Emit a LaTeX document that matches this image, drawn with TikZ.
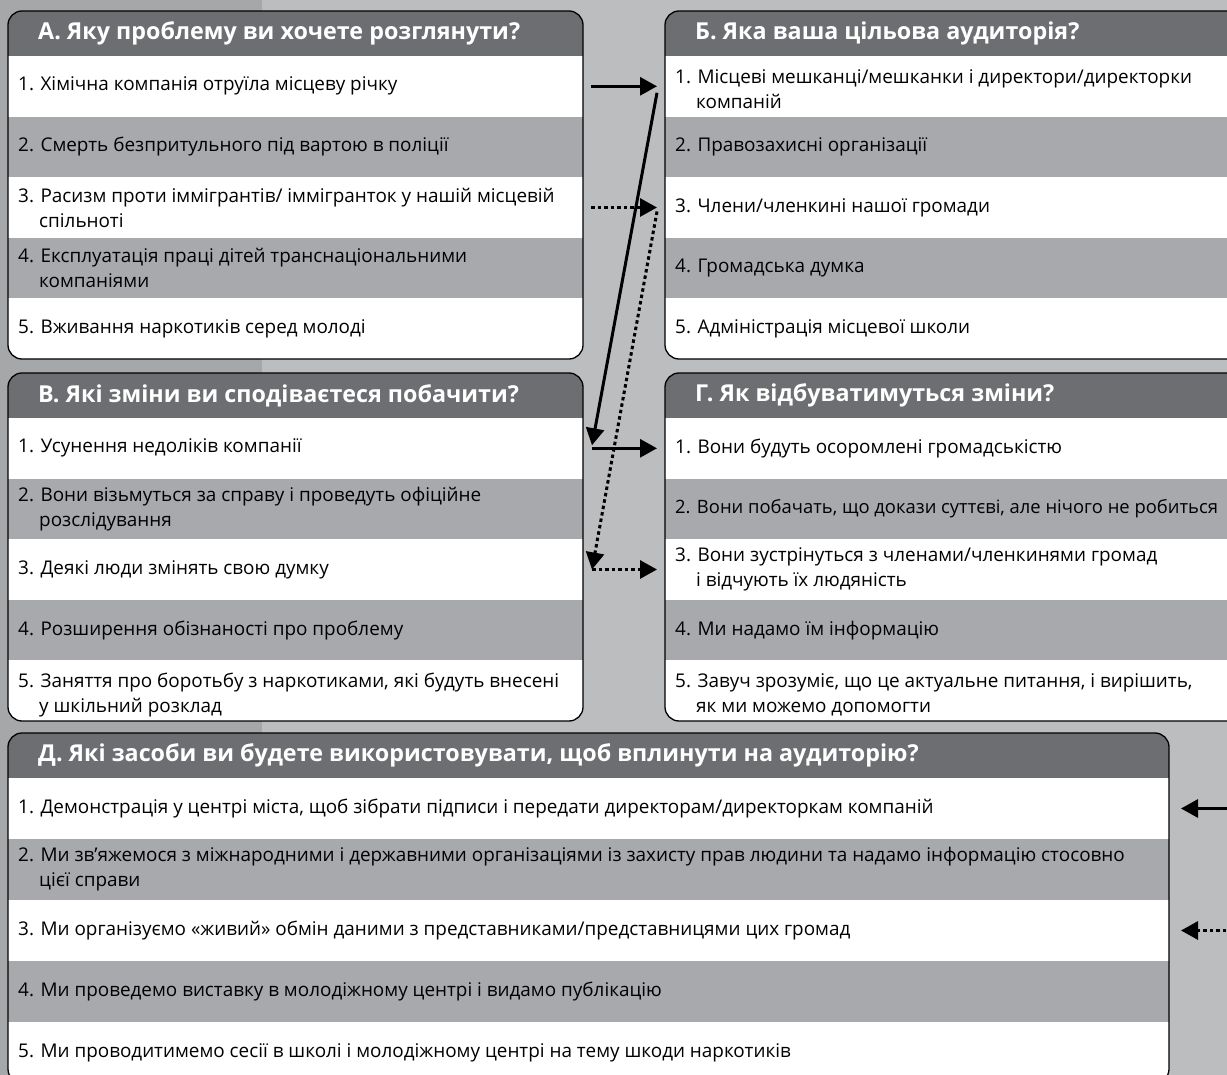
\documentclass[tikz,border=0pt]{standalone}
\usepackage{fontspec}
\setmainfont{Open Sans}
\usetikzlibrary{arrows.meta}

\begin{document}
\begin{tikzpicture}[x=1pt, y=-1pt,
    zeile/.style={anchor=west, align=left, inner sep=0pt,
      font=\fontsize{18.9}{25}\selectfont},
    kopf/.style={anchor=west, inner sep=0pt, text=white,
      font=\fontsize{23.3}{27}\selectfont\bfseries},
    rahmen/.style={draw=black, line width=1.3pt, rounded corners=14pt},
    pfeil/.style={line width=3pt, -{Triangle[length=17pt,width=18pt]}},
    punktpfeil/.style={pfeil, dash pattern=on 3.5pt off 3pt},
  ]

  % --- Farben ---
  \definecolor{kopfgrau}{HTML}{6D6E71} % Kopfzeile
  \definecolor{zeilgrau}{HTML}{A7A9AC} % Zeilen 2 und 4
  \definecolor{hgdunkel}{HTML}{A6A7A9} % Streifen links
  \definecolor{hghell}{HTML}{BCBDBF}   % Hintergrund

  % --- Hilfsmakros ---
  % \kasten{Name}{x}{y}{Breite}{Zeilenhoehe}
  \newcommand{\kasten}[5]{%
    \begin{scope}
      \clip[rounded corners=14pt] (#2,#3) rectangle ++(#4,45+5*#5);
      \fill[white] (#2,#3) rectangle ++(#4,45+5*#5);
      \fill[kopfgrau] (#2,#3) rectangle ++(#4,45);
      \fill[zeilgrau] (#2,#3+45+#5) rectangle ++(#4,#5);
      \fill[zeilgrau] (#2,#3+45+3*#5) rectangle ++(#4,#5);
    \end{scope}
    \draw[rahmen] (#2,#3) rectangle ++(#4,45+5*#5);
    \coordinate (#1) at (#2,#3+22.5);
    \foreach \i in {1,...,5}{
      \coordinate (#1\i) at (#2,#3+45+\i*#5-#5/2);
      \coordinate (#1\i r) at (#2+#4,#3+45+\i*#5-#5/2);
    }
  }
  \newcommand{\umbruch}{\\\hspace*{21pt}}

  % --- Hintergrund ---
  \clip (0,0) rectangle (1227,1075);
  \fill[hghell] (0,0) rectangle (1227,1075);
  \fill[hgdunkel] (0,0) rectangle (262,1075);

  % --- Kasten A ---
  \kasten{A}{8}{11}{575}{60.6}
  \node[kopf] (ka) at ([xshift=30pt]A) {А. Яку проблему ви хочете розглянути?};
  \node[zeile] (a1) at ([xshift=10pt]A1) {1. Хімічна компанія отруїла місцеву річку};
  \node[zeile] (a2) at ([xshift=10pt]A2) {2. Смерть безпритульного під вартою в поліції};
  \node[zeile] (a3) at ([xshift=10pt]A3) {3. Расизм проти іммігрантів/ іммігранток у нашій місцевій\umbruch спільноті};
  \node[zeile] (a4) at ([xshift=10pt]A4) {4. Експлуатація праці дітей транснаціональними\umbruch компаніями};
  \node[zeile] (a5) at ([xshift=10pt]A5) {5. Вживання наркотиків серед молоді};

  % --- Kasten B ---
  \kasten{B}{665}{11}{600}{60.6}
  \node[kopf] (kb) at ([xshift=30pt]B) {Б. Яка ваша цільова аудиторія?};
  \node[zeile] (b1) at ([shift={(10pt,-3pt)}]B1) {1. Місцеві мешканці/мешканки і директори/директорки\umbruch компаній};
  \node[zeile] (b2) at ([xshift=10pt]B2) {2. Правозахисні організації};
  \node[zeile] (b3) at ([xshift=10pt]B3) {3. Члени/членкині нашої громади};
  \node[zeile] (b4) at ([xshift=10pt]B4) {4. Громадська думка};
  \node[zeile] (b5) at ([xshift=10pt]B5) {5. Адміністрація місцевої школи};

  % --- Kasten V ---
  \kasten{V}{8}{373}{575}{60.6}
  \node[kopf] (kv) at ([xshift=30pt]V) {В. Які зміни ви сподіваєтеся побачити?};
  \node[zeile] (v1) at ([xshift=10pt]V1) {1. Усунення недоліків компанії};
  \node[zeile] (v2) at ([xshift=10pt]V2) {2. Вони візьмуться за справу і проведуть офіційне\umbruch розслідування};
  \node[zeile] (v3) at ([xshift=10pt]V3) {3. Деякі люди змінять свою думку};
  \node[zeile] (v4) at ([xshift=10pt]V4) {4. Розширення обізнаності про проблему};
  \node[zeile] (v5) at ([shift={(10pt,-4pt)}]V5) {5. Заняття про боротьбу з наркотиками, які будуть внесені\umbruch у шкільний розклад};

  % --- Kasten G ---
  \kasten{G}{665}{373}{600}{60.6}
  \node[kopf] (kg) at ([xshift=30pt]G) {Г. Як відбуватимуться зміни?};
  \node[zeile] (g1) at ([xshift=10pt]G1) {1. Вони будуть осоромлені громадськістю};
  \node[zeile, font=\fontsize{18.4}{25}\selectfont] (g2) at ([xshift=10pt]G2) {2. Вони побачать, що докази суттєві, але нічого не робиться};
  \node[zeile] (g3) at ([xshift=10pt]G3) {3. Вони зустрінуться з членами/членкинями громад\umbruch і відчують їх людяність};
  \node[zeile] (g4) at ([xshift=10pt]G4) {4. Ми надамо їм інформацію};
  \node[zeile] (g5) at ([shift={(10pt,-4pt)}]G5) {5. Завуч зрозуміє, що це актуальне питання, і вирішить,\umbruch як ми можемо допомогти};

  % --- Kasten D ---
  \kasten{D}{8}{733}{1161}{61}
  \node[kopf] (kd) at ([xshift=30pt]D) {Д. Які засоби ви будете використовувати, щоб вплинути на аудиторію?};
  \node[zeile] (d1) at ([xshift=10pt]D1) {1. Демонстрація у центрі міста, щоб зібрати підписи і передати директорам/директоркам компаній};
  \node[zeile] (d2) at ([xshift=10pt]D2) {2. Ми зв’яжемося з міжнародними і державними організаціями із захисту прав людини та надамо інформацію стосовно\umbruch цієї справи};
  \node[zeile] (d3) at ([xshift=10pt]D3) {3. Ми організуємо «живий» обмін даними з представниками/представницями цих громад};
  \node[zeile] (d4) at ([xshift=10pt]D4) {4. Ми проведемо виставку в молодіжному центрі і видамо публікацію};
  \node[zeile] (d5) at ([xshift=10pt]D5) {5. Ми проводитимемо сесії в школі і молодіжному центрі на тему шкоди наркотиків};

  % --- Pfeile ---
  % durchgezogen: A1 -> B1 -> V1 -> G1
  \draw[pfeil] ([xshift=8pt]A1r) -- ([xshift=-8pt]B1);
  \draw[pfeil] ([shift={(-8pt,-6.5pt)}]B1) -- ([shift={(9pt,3pt)}]V1r);
  \draw[pfeil] ([xshift=9pt]V1r) -- ([xshift=-8pt]G1);
  % gepunktet: A3 -> B3 -> V3 -> G3
  \draw[punktpfeil] ([xshift=8pt]A3r) -- ([xshift=-8pt]B3);
  \draw[punktpfeil] ([shift={(-8pt,-4pt)}]B3) -- ([xshift=9pt]V3r);
  \draw[punktpfeil] ([xshift=9pt]V3r) -- ([xshift=-8pt]G3);
  % von rechts in Kasten D
  \coordinate (rd1) at ([xshift=70pt]D1r);
  \coordinate (rd3) at ([xshift=70pt]D3r);
  \draw[pfeil] (rd1) -- ([xshift=12pt]D1r);
  \draw[punktpfeil] (rd3) -- ([xshift=12pt]D3r);

\end{tikzpicture}
\end{document}
